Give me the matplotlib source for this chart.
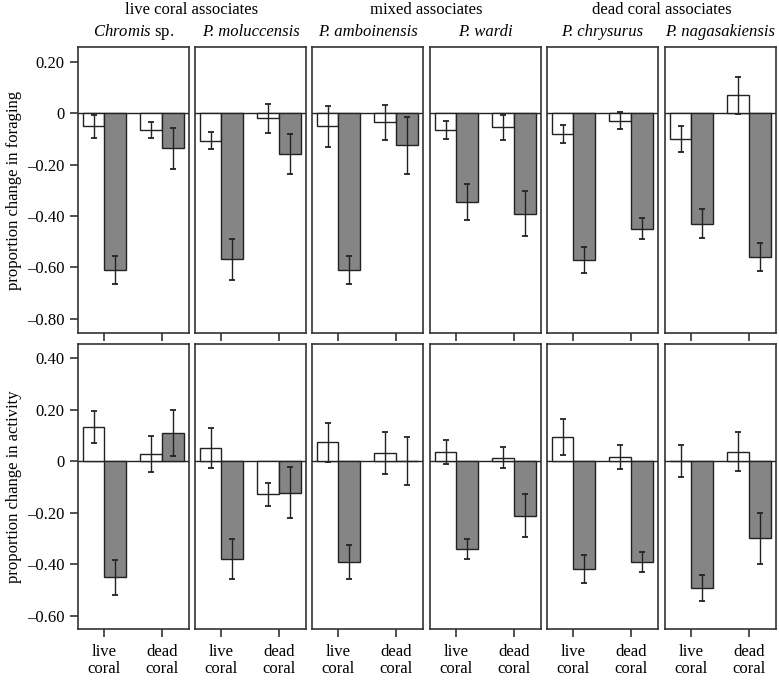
import matplotlib
matplotlib.use("Agg")
import matplotlib.pyplot as plt
import numpy as np

plt.rcParams["font.family"] = "Liberation Serif"
plt.rcParams["mathtext.fontset"] = "custom"
plt.rcParams["mathtext.rm"] = "Liberation Serif"
plt.rcParams["mathtext.it"] = "Liberation Serif:italic"

# Species and habitat groups
species = ["$\\it{Chromis}$ sp.", "P. moluccensis", "P. amboinensis",
           "P. wardi", "P. chrysurus", "P. nagasakiensis"]
italic_full = [False, True, True, True, True, True]
groups = ["live coral associates", "mixed associates", "dead coral associates"]
habitats = ["live\ncoral", "dead\ncoral"]

# foraging: [live coral, dead coral] per species
forage_white = [[-0.050, -0.065], [-0.106, -0.019], [-0.051, -0.035],
                [-0.065, -0.055], [-0.081, -0.029], [-0.099, 0.070]]
forage_white_se = [[0.045, 0.030], [0.034, 0.057], [0.079, 0.069],
                   [0.034, 0.047], [0.035, 0.033], [0.050, 0.073]]
forage_grey = [[-0.610, -0.136], [-0.568, -0.158], [-0.610, -0.125],
               [-0.345, -0.391], [-0.571, -0.449], [-0.429, -0.558]]
forage_grey_se = [[0.053, 0.080], [0.080, 0.079], [0.054, 0.110],
                  [0.069, 0.088], [0.052, 0.042], [0.058, 0.054]]

# activity: [live coral, dead coral] per species
act_white = [[0.133, 0.028], [0.053, -0.128], [0.074, 0.031],
             [0.036, 0.014], [0.095, 0.016], [0.001, 0.038]]
act_white_se = [[0.062, 0.069], [0.078, 0.045], [0.075, 0.082],
                [0.047, 0.040], [0.069, 0.047], [0.062, 0.074]]
act_grey = [[-0.451, 0.110], [-0.380, -0.122], [-0.392, 0.001],
            [-0.342, -0.211], [-0.418, -0.392], [-0.492, -0.300]]
act_grey_se = [[0.067, 0.091], [0.077, 0.098], [0.067, 0.095],
               [0.038, 0.083], [0.055, 0.038], [0.051, 0.100]]

W, H = 779, 682
fig = plt.figure(figsize=(W / 100, H / 100), dpi=100)

lefts = [78, 195, 312, 430, 547, 665]
pw = 111
rows = [(47, 333), (344, 629)]
ylims = [(-0.855, 0.258), (-0.652, 0.456)]
yticks = [[0.2, 0, -0.2, -0.4, -0.6, -0.8], [0.4, 0.2, 0, -0.2, -0.4, -0.6]]
ylabels = ["proportion change in foraging", "proportion change in activity"]
data = [(forage_white, forage_white_se, forage_grey, forage_grey_se),
        (act_white, act_white_se, act_grey, act_grey_se)]

def fmt(v):
    if v == 0:
        return "0"
    s = "%.2f" % abs(v)
    return ("\u2013" + s) if v < 0 else s

bw = 0.38
x = np.array([1, 2])
edge = "#222222"
for r, (top, bot) in enumerate(rows):
    wm, ws, gm, gs = data[r]
    for i, left in enumerate(lefts):
        ax = fig.add_axes([left / W, 1 - bot / H, pw / W, (bot - top) / H])
        ax.bar(x - bw / 2, wm[i], bw, color="white", edgecolor=edge, linewidth=1.0, zorder=2)
        ax.bar(x + bw / 2, gm[i], bw, color="#858585", edgecolor=edge, linewidth=1.0, zorder=2)
        ax.errorbar(x - bw / 2, wm[i], yerr=ws[i], fmt="none", ecolor=edge,
                    elinewidth=1.0, capsize=2, capthick=1.3, zorder=3)
        ax.errorbar(x + bw / 2, gm[i], yerr=gs[i], fmt="none", ecolor=edge,
                    elinewidth=1.0, capsize=2, capthick=1.3, zorder=3)
        ax.axhline(0, color=edge, linewidth=1.0, zorder=1)
        ax.set_xlim(0.54, 2.47)
        ax.set_ylim(*ylims[r])
        for sp in ax.spines.values():
            sp.set_color("#333333")
            sp.set_linewidth(1.2)
        ax.set_xticks(x)
        ax.tick_params(axis="x", length=6, width=1.2, color="#333333", labelsize=12, pad=5)
        if r == 1:
            ax.set_xticklabels(habitats, linespacing=1.05)
        else:
            ax.set_xticklabels([])
        ax.set_yticks(yticks[r])
        ax.tick_params(axis="y", length=6, width=1.2, color="#333333", labelsize=12)
        if i == 0:
            ax.set_yticklabels([fmt(v) for v in yticks[r]])
            ax.set_ylabel(ylabels[r], fontsize=12, labelpad=4)
        else:
            ax.tick_params(axis="y", left=False, labelleft=False)
        if r == 0:
            ax.text(0.5, 1 + 15 / (bot - top), species[i], transform=ax.transAxes,
                    ha="center", va="center", fontsize=12,
                    style="italic" if italic_full[i] else "normal")

# group headings
for g, name in enumerate(groups):
    cx = (lefts[2 * g] + lefts[2 * g + 1] + pw) / 2
    fig.text(cx / W, 1 - 10 / H, name, ha="center", va="center", fontsize=12)

fig.savefig("out.png", dpi=100)
